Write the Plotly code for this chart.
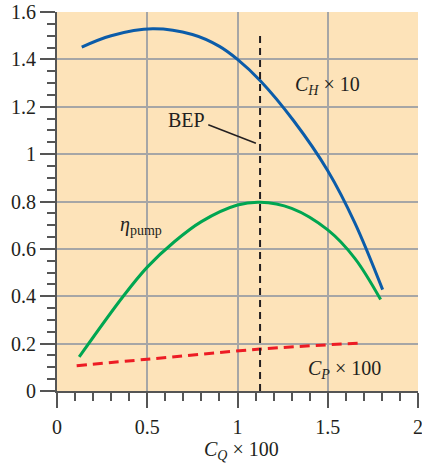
import plotly.graph_objects as go

# Data
ch_x = [0.137, 0.3, 0.53, 0.75, 0.9, 1.0, 1.125, 1.31, 1.5, 1.65, 1.804]
ch_y = [1.452, 1.50, 1.529, 1.505, 1.455, 1.40, 1.311, 1.142, 0.93, 0.71, 0.428]

eta_x = [0.123, 0.367, 0.5, 0.65, 0.8, 1.0, 1.125, 1.3, 1.5, 1.65, 1.793]
eta_y = [0.144, 0.40, 0.523, 0.63, 0.715, 0.785, 0.797, 0.771, 0.68, 0.56, 0.386]

cp_x = [0.109, 0.5, 1.125, 1.695]
cp_y = [0.107, 0.134, 0.177, 0.203]

bep_x = [1.125, 1.125]
bep_y = [0.0, 1.5]

leader_x = [0.838, 1.102]
leader_y = [1.124, 1.046]

x_ticks = [0, 0.5, 1, 1.5, 2]
x_tick_labels = ["0", "0.5", "1", "1.5", "2"]
y_ticks = [0, 0.2, 0.4, 0.6, 0.8, 1.0, 1.2, 1.4, 1.6]
y_tick_labels = ["0", "0.2", "0.4", "0.6", "0.8", "1", "1.2", "1.4", "1.6"]

FONT = "Liberation Serif"
TXT = "#231f20"

fig = go.Figure()
fig.add_trace(go.Scatter(x=ch_x, y=ch_y, mode="lines", line=dict(color="#0b5ca9", width=3, shape="spline", smoothing=1), showlegend=False))
fig.add_trace(go.Scatter(x=eta_x, y=eta_y, mode="lines", line=dict(color="#00a651", width=3, shape="spline", smoothing=1), showlegend=False))
fig.add_trace(go.Scatter(x=cp_x, y=cp_y, mode="lines", line=dict(color="#ed1c24", width=3, dash="10px,6px", shape="spline"), showlegend=False))
fig.add_trace(go.Scatter(x=bep_x, y=bep_y, mode="lines", line=dict(color=TXT, width=2, dash="7px,5px"), showlegend=False))
fig.add_trace(go.Scatter(x=leader_x, y=leader_y, mode="lines", line=dict(color=TXT, width=1.5), showlegend=False))

ann_font = dict(family=FONT, size=20, color=TXT)
fig.add_annotation(x=0.715, y=1.145, text="BEP", showarrow=False, font=ann_font, xanchor="center", yanchor="middle")
fig.add_annotation(x=1.50, y=1.29, text="<i>C</i><sub><i>H</i></sub> × 10", showarrow=False, font=ann_font, xanchor="center", yanchor="middle")
fig.add_annotation(x=0.463, y=0.70, text="<i>η</i><sub>pump</sub>", showarrow=False, font=ann_font, xanchor="center", yanchor="middle")
fig.add_annotation(x=1.594, y=0.09, text="<i>C</i><sub><i>P</i></sub> × 100", showarrow=False, font=ann_font, xanchor="center", yanchor="middle")
fig.add_annotation(x=1.02, xref="x", y=-0.158, yref="paper", text="<i>C</i><sub><i>Q</i></sub> × 100",
                   showarrow=False, font=ann_font, xanchor="center", yanchor="middle")

fig.update_layout(
    width=422, height=464,
    margin=dict(l=57, r=4, t=12, b=73),
    paper_bgcolor="white",
    plot_bgcolor="#fde3b9",
    font=dict(family=FONT, size=20, color=TXT),
)
fig.update_xaxes(
    range=[0, 2], tickvals=x_ticks, ticktext=x_tick_labels, automargin=False,
    ticklabeloverflow="allow", ticklabelstandoff=2,
    showgrid=True, gridcolor="#a6a6a6", gridwidth=1.5,
    showline=True, linecolor="#555555", linewidth=2,
    ticks="outside", ticklen=15, tickwidth=1.5, tickcolor="#555555",
    minor=dict(dtick=0.1, ticks="outside", ticklen=8, tickwidth=1.5, tickcolor="#555555", showgrid=False),
    zeroline=False, fixedrange=True,
)
fig.update_yaxes(
    range=[0, 1.6], tickvals=y_ticks, ticktext=y_tick_labels, automargin=False,
    showgrid=True, gridcolor="#a6a6a6", gridwidth=1.5,
    showline=True, linecolor="#555555", linewidth=2,
    ticks="outside", ticklen=15, tickwidth=1.5, tickcolor="#555555",
    minor=dict(dtick=0.05, ticks="outside", ticklen=8, tickwidth=1.5, tickcolor="#555555", showgrid=False),
    zeroline=False, fixedrange=True,
)
fig.write_html("out.html", config={"displayModeBar": False},
               post_script="document.body.style.margin='0';document.body.style.padding='0';")
